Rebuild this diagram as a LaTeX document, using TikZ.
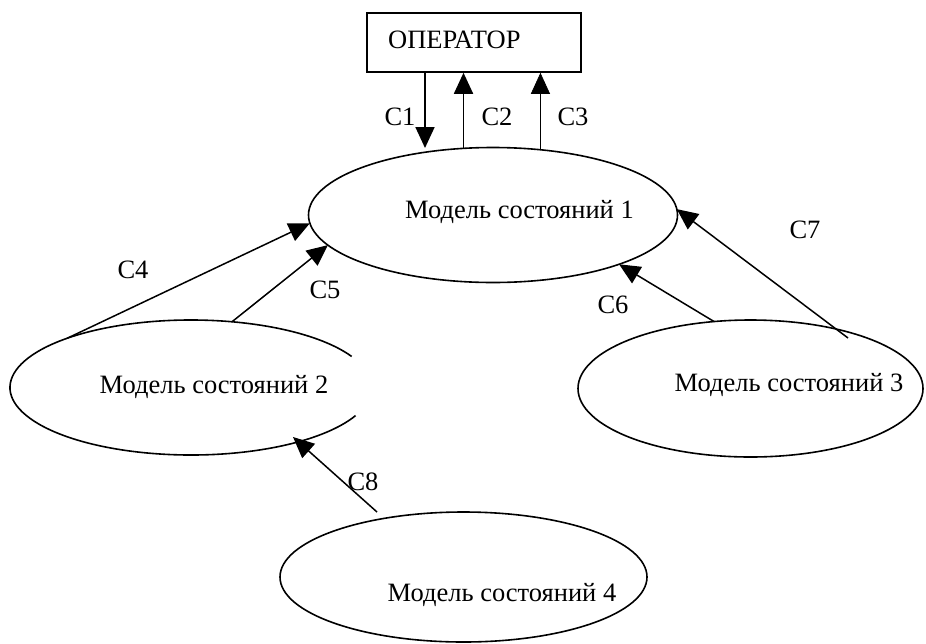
\documentclass[tikz,border=0pt]{standalone}
\usepackage{fontspec}
\setmainfont{Liberation Serif}
\usetikzlibrary{arrows.meta,shapes.geometric,calc}
\begin{document}
\begin{tikzpicture}[x=1pt,y=-1pt,
  lbl/.style={font=\fontsize{26.5}{31}\selectfont, inner sep=0pt},
  state/.style={ellipse, draw, line width=1.6pt, inner sep=0pt},
  arr/.style={line width=1.5pt, -{Triangle[length=21pt,width=19pt]}},
]
\useasboundingbox (0,0) rectangle (926,643);

% operator box
\node[draw, line width=1.6pt, minimum width=214pt, minimum height=59pt, inner sep=0pt] (op) at (474,42.5) {};
\node[lbl, anchor=west] (optext) at (388,40) {ОПЕРАТОР};

% state models
\node[state, minimum width=369pt, minimum height=135pt] (e1) at (493,215) {};
\node[lbl] (t1) at (519.5,212) {Модель состояний 1};

\node[state, draw=none, minimum width=362pt, minimum height=135pt] (e2) at (191,387.5) {};
\draw[line width=1.6pt] ([shift={(27.4:181pt and 67.5pt)}]e2.center)
  arc[start angle=27.4, end angle=335.4, x radius=181pt, y radius=67.5pt];
\node[lbl] (t2) at (214,387) {Модель состояний 2};

\node[state, minimum width=345pt, minimum height=137pt] (e3) at (750.5,388.5) {};
\node[lbl] (t3) at (789,385) {Модель состояний 3};

\node[state, minimum width=367pt, minimum height=130pt] (e4) at (463.5,577) {};
\node[lbl] (t4) at (502,595) {Модель состояний 4};

% connector ends
\coordinate (c1) at (425,148);
\coordinate (c2) at ([shift={(99.2:184.5pt and 67.5pt)}]e1.center);
\coordinate (c3) at ([shift={(75.1:184.5pt and 67.5pt)}]e1.center);
\coordinate (c4s) at ([shift={(133.2:181pt and 67.5pt)}]e2.center);
\coordinate (c4e) at ([shift={(187:184.5pt and 67.5pt)}]e1.center);
\coordinate (c5s) at ([shift={(76.9:181pt and 67.5pt)}]e2.center);
\coordinate (c5e) at ([shift={(206.5:184.5pt and 67.5pt)}]e1.center);
\coordinate (c6s) at ([shift={(102.2:172.5pt and 68.5pt)}]e3.center);
\coordinate (c6e) at ([shift={(313.1:184.5pt and 67.5pt)}]e1.center);
\coordinate (c7s) at (848,338);
\coordinate (c7e) at ([shift={(5:184.5pt and 67.5pt)}]e1.center);
\coordinate (c8s) at (377,512);
\coordinate (c8e) at (293,437);

% connectors
\draw[arr, line width=1.8pt] (op.south -| c1) -- (c1);
\draw[arr, line width=1.8pt] (c2) -- (c2 |- op.south);
\draw[arr, line width=0.7pt] (c3) -- (c3 |- op.south);
\draw[arr] (c4s) -- (c4e);
\draw[arr] (c5s) -- (c5e);
\draw[arr] (c6s) -- (c6e);
\draw[arr] (c7s) -- (c7e);
\draw[arr] (c8s) -- (c8e);

% labels
\node[lbl] (l1) at (400,117) {C1};
\node[lbl] (l2) at (497,117) {C2};
\node[lbl] (l3) at (573,117) {C3};
\node[lbl] (l4) at (133,270) {C4};
\node[lbl] (l5) at (325,290) {C5};
\node[lbl] (l6) at (613,305) {C6};
\node[lbl] (l7) at (805,230) {C7};
\node[lbl] (l8) at (363,482) {C8};
\end{tikzpicture}
\end{document}
